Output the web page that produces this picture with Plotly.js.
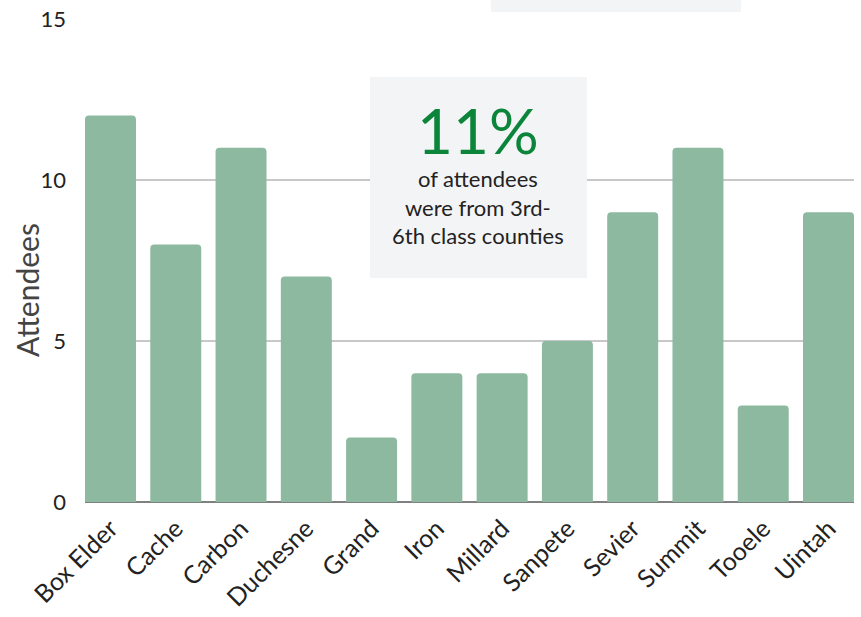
<!DOCTYPE html>
<html>
<head>
<meta charset="utf-8">
<script src="https://cdn.plot.ly/plotly-3.0.1.min.js"></script>
<style>
html,body{margin:0;padding:0;background:#fff;}
#chart{width:861px;height:617px;}
</style>
</head>
<body>
<div id="chart"></div>
<script>
const counties = ["Box Elder","Cache","Carbon","Duchesne","Grand","Iron","Millard","Sanpete","Sevier","Summit","Tooele","Uintah"];
const attendees = [12,8,11,7,2,4,4,5,9,11,3,9];
const yTickVals = [0,5,10,15];
const yTickText = ["0","5","10","15"];
const calloutValue = "11%";
const calloutText = "of attendees<br>were from 3rd-<br>6th class counties";
const yTitle = "Attendees";

const FONT = "Lato, 'Open Sans', sans-serif";
const barWidth = 0.781;

const trace = {
  type: "bar",
  x: counties.map((c,i)=>i),
  y: attendees,
  width: barWidth,
  marker: {color: "#8db9a0", cornerradius: 4, line: {width: 0}},
  hoverinfo: "x+y"
};

const layout = {
  width: 861, height: 617,
  margin: {l: 85, r: 7, t: 19, b: 115},
  paper_bgcolor: "#ffffff",
  plot_bgcolor: "#ffffff",
  showlegend: false,
  font: {family: FONT, color: "#222"},
  xaxis: {
    range: [-barWidth/2, counties.length - 1 + barWidth/2],
    tickmode: "array",
    tickvals: counties.map((c,i)=>i),
    ticktext: counties,
    tickangle: -45,
    tickfont: {family: FONT, size: 25, color: "#222"},
    ticklabelstandoff: 6,
    showgrid: false,
    zeroline: false,
    showline: false,
    ticks: "",
    fixedrange: true
  },
  yaxis: {
    range: [0, 15],
    tickmode: "array",
    tickvals: yTickVals,
    ticktext: yTickText,
    tickfont: {family: FONT, size: 22, color: "#222"},
    ticklabelstandoff: 18,
    showgrid: true,
    gridcolor: "#c8c8c8",
    gridwidth: 1.5,
    zeroline: true,
    zerolinecolor: "#808080",
    zerolinewidth: 2,
    showline: false,
    ticks: "",
    fixedrange: true
  },
  shapes: [
    {type: "rect", xref: "paper", yref: "paper", x0: 0.3706, x1: 0.6528, y0: 0.4638, y1: 0.880,
     fillcolor: "#f3f4f6", line: {width: 0}, layer: "above"},
    {type: "rect", xref: "paper", yref: "paper", x0: 0.528, x1: 0.853, y0: 1.0145, y1: 1.08,
     fillcolor: "#f3f4f6", line: {width: 0}, layer: "above"}
  ],
  annotations: [
    {xref: "paper", yref: "paper", x: 0.5117, y: 0.770, text: calloutValue, showarrow: false,
     font: {family: FONT, size: 62, color: "#0a853a"}, xanchor: "center", yanchor: "middle"},
    {xref: "paper", yref: "paper", x: 0.5117, y: 0.611, text: calloutText, showarrow: false,
     font: {family: FONT, size: 22, color: "#222"}, xanchor: "center", yanchor: "middle", align: "center"},
    {xref: "paper", yref: "paper", x: 0, xshift: -58, y: 0.439, text: yTitle, showarrow: false,
     textangle: -90, font: {family: FONT, size: 30, color: "#444"}, xanchor: "center", yanchor: "middle"}
  ]
};

Plotly.newPlot("chart", [trace], layout, {displayModeBar: false, staticPlot: true});
</script>
</body>
</html>
